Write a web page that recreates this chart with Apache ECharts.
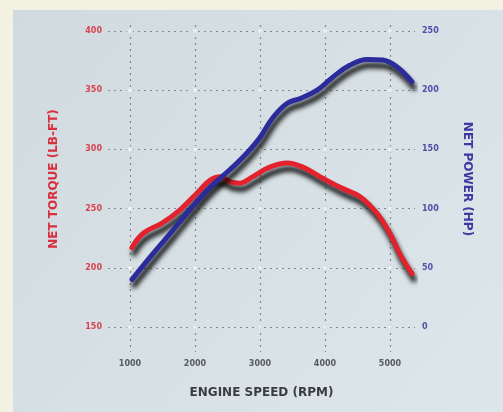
<!DOCTYPE html>
<html><head><meta charset="utf-8">
<script src="https://cdn.jsdelivr.net/npm/echarts@6/dist/echarts.min.js"></script>
<style>html,body{margin:0;padding:0;background:#d5dde1}#c{width:503px;height:412px}</style>
</head><body><div id="c"></div>
<script>
// Tick labels
const rpmTicks = [1000, 2000, 3000, 4000, 5000];
const torqueTicks = [150, 200, 250, 300, 350, 400];
const powerTicks = [0, 50, 100, 150, 200, 250];

// Net torque (lb-ft) vs engine speed
const torqueRpm    = [1030, 1200, 1500, 1770, 2030, 2230, 2390, 2540, 2690, 2890, 3150, 3420, 3660, 3920, 4230, 4540, 4800, 5000, 5150, 5340];
const torqueValues = [217,  229,  238,  249,  263,  274,  277,  272.5, 271.5, 277, 285, 288.5, 285,  277,  268,  260,  246,  229,  212,  195];

// Net power (hp) vs engine speed
const powerRpm    = [1030, 1310, 1620, 1920, 2230, 2540, 2800, 3000, 3200, 3420, 3620, 3880, 4120, 4380, 4650, 4890, 5110, 5340];
const powerValues = [40,   59,   79,   99,   118,  133,  147,  160,  177,  189,  193,  200,  211,  221,  226,  225.5, 219.5, 207];

const gridColor = '#7f8a8e';
const dash = [2, 4];
const chart = echarts.init(document.getElementById('c'));
const pairs = (xs, ys) => xs.map((x, i) => [x, ys[i]]);
const crossings = [];
rpmTicks.forEach(r => torqueTicks.forEach(t => crossings.push([r, t])));
const shadow = { shadowColor: 'rgba(0,0,0,1)', shadowBlur: 5, shadowOffsetX: 2, shadowOffsetY: 6 };

chart.setOption({
  animation: false,
  backgroundColor: new echarts.graphic.LinearGradient(0, 0, 1, 1, [
    { offset: 0, color: '#d1dadf' }, { offset: 1, color: '#dde6ea' }
  ]),
  textStyle: { fontFamily: 'DejaVu Sans' },
  graphic: [
    { type: 'rect', left: 0, top: 0, shape: { width: 503, height: 10 }, style: { fill: '#f3f1e2' }, silent: true },
    { type: 'rect', left: 0, top: 0, shape: { width: 13, height: 412 }, style: { fill: '#f3f1e2' }, silent: true }
  ],
  grid: { left: 108, right: 88, top: 31, bottom: 85 },
  xAxis: [{
    type: 'value', min: 662, max: 5385,
    axisLine: { show: false },
    splitLine: { show: false },
    axisTick: { show: true, customValues: rpmTicks, inside: true, length: 302,
      lineStyle: { color: gridColor, type: dash, width: 1.2 } },
    axisLabel: { customValues: rpmTicks, formatter: v => String(v), margin: 33, fontSize: 8, fontWeight: 'bold', color: '#555b5e' },
    name: 'ENGINE SPEED (RPM)', nameLocation: 'middle', nameGap: 60,
    nameTextStyle: { fontSize: 12, fontWeight: 'bold', color: '#3a3d3f' }
  }, {
    type: 'value', min: 662, max: 5385, position: 'bottom',
    axisLine: { show: false }, splitLine: { show: false },
    axisLabel: { show: false },
    axisTick: { show: true, customValues: rpmTicks, inside: false, length: 25,
      lineStyle: { color: gridColor, type: dash, width: 1.2 } }
  }],
  yAxis: [{
    type: 'value', min: 150, max: 400, interval: 50, position: 'left',
    axisLine: { show: false }, axisTick: { show: false },
    splitLine: { show: true, lineStyle: { color: gridColor, type: dash, width: 1.2 } },
    axisLabel: { margin: 6, fontSize: 8, fontWeight: 'bold', color: '#d9434f' },
    name: 'NET TORQUE (LB-FT)', nameLocation: 'middle', nameGap: 48, nameRotate: 90,
    nameTextStyle: { fontSize: 12, fontWeight: 'bold', color: '#d8303f' }
  }, {
    type: 'value', min: 0, max: 250, interval: 50, position: 'right',
    axisLine: { show: false }, axisTick: { show: false }, splitLine: { show: false },
    axisLabel: { margin: 7, fontSize: 8, fontWeight: 'bold', color: '#4f4fa6' },
    name: 'NET POWER (HP)', nameLocation: 'middle', nameGap: 46, nameRotate: -90,
    nameTextStyle: { fontSize: 12, fontWeight: 'bold', color: '#3a3aa0' }
  }],
  series: [{
    type: 'scatter', xAxisIndex: 0, yAxisIndex: 0, silent: true,
    data: crossings, symbol: 'emptyCircle', symbolSize: 5,
    itemStyle: { color: '#d5dde1', borderColor: gridColor, borderWidth: 1 }, z: 1
  }, {
    type: 'line', name: 'Net torque', xAxisIndex: 0, yAxisIndex: 0,
    data: pairs(torqueRpm, torqueValues), smooth: 0.4, showSymbol: false,
    lineStyle: Object.assign({ color: '#e3222e', width: 5, cap: 'round' }, shadow),
    z: 3
  }, {
    type: 'line', name: 'Net power', xAxisIndex: 0, yAxisIndex: 1,
    data: pairs(powerRpm, powerValues), smooth: 0.4, showSymbol: false,
    lineStyle: Object.assign({ color: '#2b2b9c', width: 5, cap: 'round' }, shadow),
    z: 4
  }]
});
</script></body></html>
